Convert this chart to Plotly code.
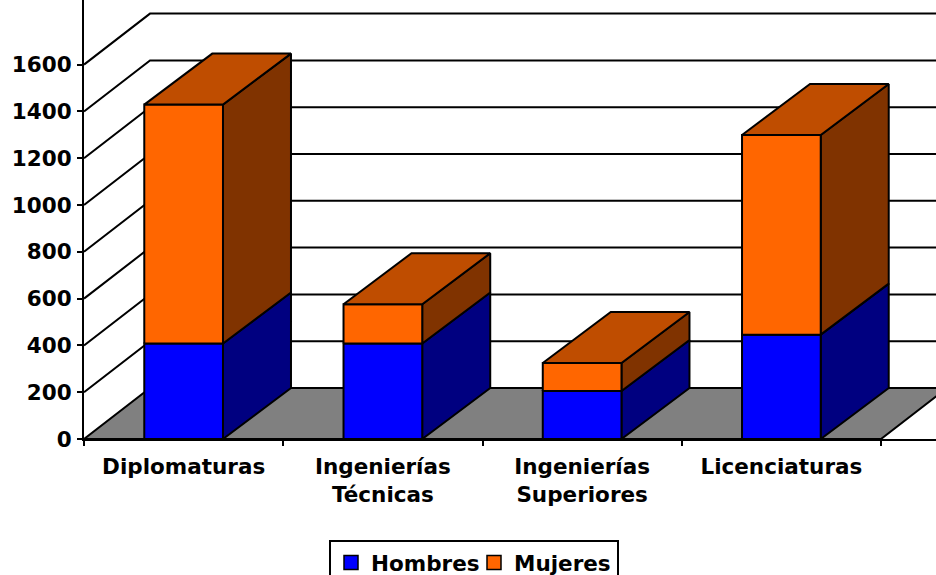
import plotly.graph_objects as go

categories = ["Diplomaturas", "Ingenierías<br>Técnicas", "Ingenierías<br>Superiores", "Licenciaturas"]
hombres = [408, 408, 205, 446]
mujeres = [1021, 168, 120, 853]
y_ticks = [0, 200, 400, 600, 800, 1000, 1200, 1400, 1600]

BLUE, BLUE_SIDE = "#0000FF", "#000080"
ORANGE, ORANGE_TOP, ORANGE_SIDE = "#FF6600", "#BF4D00", "#803300"
FLOOR = "#808080"

PX_X, PX_Y = 199.25, 0.234          # pixels per category, pixels per unit
WALL_DX, BAR_DX, DY = 66 / PX_X, 68 / PX_X, 51 / PX_Y   # oblique depth vector in data units
BAR_W = 0.395
X_MAX = (936 - 84) / PX_X
Y_MAX = 439 / PX_Y
LW = 2
FONT = dict(family="DejaVu Sans, sans-serif", size=21.5, color="black", weight=700)

fig = go.Figure()


def poly(xs, ys, fill=None, width=LW):
    fig.add_trace(go.Scatter(
        x=xs, y=ys, mode="lines", line=dict(color="black", width=width),
        fill="toself" if fill else None, fillcolor=fill,
        showlegend=False, hoverinfo="skip", cliponaxis=False))


def box(x0, x1, v0, v1, front, side, top):
    poly([x1, x1 + BAR_DX, x1 + BAR_DX, x1, x1], [v0, v0 + DY, v1 + DY, v1, v0], side)
    poly([x0, x1, x1, x0, x0], [v0, v0, v1, v1, v0], front)
    if top:
        poly([x0, x1, x1 + BAR_DX, x0 + BAR_DX, x0], [v1, v1, v1 + DY, v1 + DY, v1], top)


# floor
poly([0, 4, 4 + WALL_DX, WALL_DX, 0], [0, 0, DY, DY, 0], FLOOR)
# walls' gridlines
for t in y_ticks[1:]:
    poly([0, WALL_DX, X_MAX + 1], [t, t + DY, t + DY])

# bars
for i in range(len(categories)):
    x0, x1 = i + 0.5 - BAR_W / 2, i + 0.5 + BAR_W / 2
    h, m = hombres[i], mujeres[i]
    box(x0, x1, 0, h, BLUE, BLUE_SIDE, None)
    box(x0, x1, h, h + m, ORANGE, ORANGE_SIDE, ORANGE_TOP)

# legend entries
for name, col in (("Hombres", BLUE), ("Mujeres", ORANGE)):
    fig.add_trace(go.Scatter(
        x=[None], y=[None], mode="markers", name=name,
        marker=dict(symbol="square", size=14, color=col, line=dict(color="black", width=1.5))))

fig.update_layout(
    width=936, height=575, margin=dict(l=84, r=0, t=0, b=136),
    paper_bgcolor="white", plot_bgcolor="white",
    font=FONT,
    showlegend=True,
    legend=dict(orientation="h", xref="container", yref="container",
                x=329 / 936, xanchor="left", y=(575 - 540) / 575, yanchor="top",
                bordercolor="black", borderwidth=2, bgcolor="white", font=FONT,
                itemwidth=30, tracegroupgap=0, entrywidth=98, entrywidthmode="pixels"),
    xaxis=dict(range=[0, X_MAX], tickmode="array",
               tickvals=[i + 0.5 for i in range(len(categories))], ticktext=categories,
               ticks="", showgrid=False, zeroline=False, showline=True, linecolor="black", linewidth=LW,
               tickfont=FONT, ticklabelstandoff=7,
               minor=dict(tickmode="array", tickvals=list(range(len(categories) + 1)),
                          ticks="outside", ticklen=5, tickwidth=LW, tickcolor="black", showgrid=False)),
    yaxis=dict(range=[0, Y_MAX], tickmode="array", tickvals=y_ticks, ticktext=[str(t) for t in y_ticks],
               ticks="outside", ticklen=5, tickwidth=LW, tickcolor="black",
               showgrid=False, zeroline=False, showline=True, linecolor="black", linewidth=LW,
               tickfont=FONT, ticklabelstandoff=1),
)

fig.write_html("out.html", config=dict(displayModeBar=False),
               post_script="document.body.style.margin='0';document.body.style.overflow='hidden';")
